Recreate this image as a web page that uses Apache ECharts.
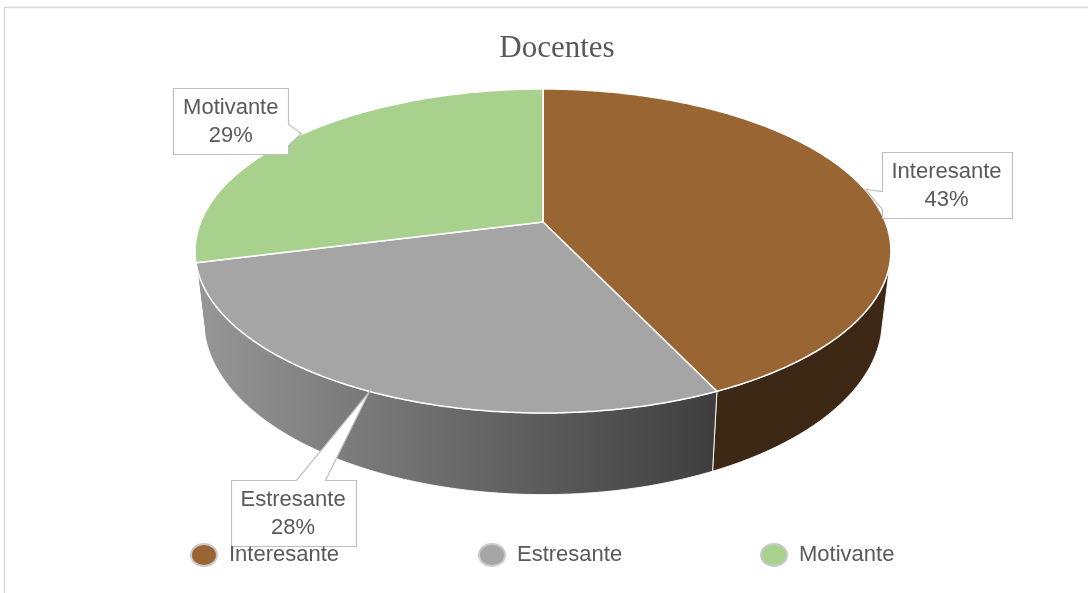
<!DOCTYPE html>
<html><head><meta charset="utf-8">
<script src="https://cdn.jsdelivr.net/npm/echarts@6/dist/echarts.min.js"></script>
<style>html,body{margin:0;padding:0;background:#fff}#c{width:1088px;height:593px}</style>
</head><body><div id="c"></div>
<script>
// ---- data ----
const chartTitle = 'Docentes';
const categories = ['Interesante', 'Estresante', 'Motivante'];
const values = [43, 28, 29];

// ---- style ----
const topColors = ['#996633', '#a5a5a5', '#a9d18e'];
const wallColors = [
  '#3d2816',
  {type:'linear', x:0, y:0, x2:1, y2:0, colorStops:[{offset:0,color:'#979797'},{offset:0.3,color:'#7b7b7b'},{offset:1,color:'#3e3e3e'}]},
  '#7d9c68'
];
const FONT = '"Liberation Sans", Arial, sans-serif';
const TXT = '#595959';
const legendLefts = [190, 478, 760];

// ---- 3D pie projection (layout) ----
const CX = 543, CY = 222, A = 342.3, B = 156.8, K = 0.179, D = 67, SX = 0.975;
function proj(theta){
  const t = theta*Math.PI/180, u = Math.sin(t), v = -Math.cos(t), s = 1/(1-K*v);
  return {x: CX + A*u*s, y: CY + B*v*s, s: s, u: u, v: v};
}
function projB(theta){
  const p = proj(theta);
  return {x: CX + (p.x-CX)*SX, y: p.y + D*p.s};
}
function tangent(lo, hi){
  let best = lo, bv = Infinity;
  for (let th = lo; th <= hi; th += 0.1){
    const p = proj(th), b = projB(th);
    const p1 = proj(th+0.05), p0 = proj(th-0.05);
    const tx = p1.x-p0.x, ty = p1.y-p0.y, dx = b.x-p.x, dy = b.y-p.y;
    const c = Math.abs((tx*dy - ty*dx)/Math.hypot(tx,ty)/Math.hypot(dx,dy));
    if (c < bv){ bv = c; best = th; }
  }
  return best;
}
const TH_R = tangent(60, 140), TH_L = tangent(220, 300);

const total = values.reduce((a,b)=>a+b, 0);
const starts = [], ends = [];
{ let acc = 0; values.forEach(v => { starts.push(acc/total*360); acc += v; ends.push(acc/total*360); }); }

function arc(a0, a1, f){
  const pts = [], n = Math.max(2, Math.ceil((a1-a0)/0.5));
  for (let i = 0; i <= n; i++){ const p = f(a0 + (a1-a0)*i/n); pts.push([p.x, p.y]); }
  return pts;
}

const mctx = document.createElement('canvas').getContext('2d');
mctx.font = '22px ' + FONT;

function renderWall(params){
  const i = params.dataIndex;
  const a0 = Math.max(starts[i], TH_R), a1 = Math.min(ends[i], TH_L);
  if (a1 <= a0) return null;
  const pts = arc(a0, a1, proj).concat(arc(a0, a1, projB).reverse());
  return {type:'polygon', shape:{points:pts}, style:{fill: wallColors[i], stroke:'rgba(255,255,255,0.9)', lineWidth:1}};
}
function renderTop(params){
  const i = params.dataIndex;
  const pts = [[CX, CY]].concat(arc(starts[i], ends[i], proj));
  return {type:'polygon', shape:{points:pts}, style:{fill: topColors[i], stroke:'#ffffff', lineWidth:1.5, lineJoin:'round'}};
}
function renderLabel(params){
  const i = params.dataIndex;
  const mid = (starts[i]+ends[i])/2;
  const tip = proj(mid);
  const pct = Math.round(values[i]/total*100) + '%';
  const text = categories[i] + '\n' + pct;
  const tw = Math.max(mctx.measureText(categories[i]).width, mctx.measureText(pct).width);
  const w = Math.round(tw + 20), h = 66;
  let x, y, pts;
  if (tip.v > 0.5){            // front: box below
    x = tip.x - 76 - w/2; y = tip.y + 89;
    pts = [[x,y],[x+65,y],[tip.x,tip.y],[x+94,y],[x+w,y],[x+w,y+h],[x,y+h]];
  } else if (tip.u > 0){       // right
    x = tip.x + 17; y = tip.y - 4 - h/2;
    pts = [[x,y],[x+w,y],[x+w,y+h],[x,y+h],[x,y+57],[tip.x,tip.y],[x,y+39]];
  } else {                     // left
    x = tip.x - 11 - w; y = tip.y - 14 - h/2;
    pts = [[x,y],[x+w,y],[x+w,y+36],[tip.x+2,tip.y-2],[x+w,y+57],[x+w,y+h],[x,y+h]];
  }
  pts = pts.map(p => [Math.round(p[0])+0.5, Math.round(p[1])+0.5]);
  return {type:'group', children:[
    {type:'polygon', shape:{points:pts}, style:{fill:'#ffffff', stroke:'#bfbfbf', lineWidth:1.2}},
    {type:'text', style:{text:text, x:x+w/2, y:y+h/2+1, align:'center', verticalAlign:'middle',
      fontSize:22, fontFamily:FONT, fill:TXT, lineHeight:28}}
  ]};
}

const legends = categories.map((n, i) => ({
  left: legendLefts[i], top: 543, padding: 0, itemWidth: 26, itemHeight: 22, selectedMode: false,
  icon: 'path://M0,11a13,11 0 1,0 26,0a13,11 0 1,0 -26,0',
  textStyle: {fontSize: 22, fontFamily: FONT, color: TXT, padding: [0, 0, 0, 7]},
  data: [n]
}));

const chart = echarts.init(document.getElementById('c'), null, {renderer:'canvas'});
chart.setOption({
  animation:false,
  backgroundColor:'#ffffff',
  title:{text:chartTitle, left:552, top:28, textAlign:'center',
    textStyle:{fontFamily:'"Liberation Serif", "Times New Roman", serif', fontSize:31, fontWeight:'normal', color:TXT}},
  legend: legends,
  graphic:[{type:'rect', silent:true, z:-10, shape:{x:4.5, y:7.5, width:1200, height:700},
    style:{fill:'none', stroke:'#d9d9d9', lineWidth:1.5}}],
  series:[
    {type:'pie', radius:[0,0], center:[CX,CY], silent:true, label:{show:false}, labelLine:{show:false},
      data:categories.map((n,i)=>({name:n, value:values[i], itemStyle:{color:topColors[i], borderColor:'#c9c9c9', borderWidth:1}}))},
    {type:'custom', coordinateSystem:'none', silent:true, z:1, renderItem:renderWall, data:values},
    {type:'custom', coordinateSystem:'none', silent:true, z:2, renderItem:renderTop, data:values},
    {type:'custom', coordinateSystem:'none', silent:true, z:3, renderItem:renderLabel, data:values}
  ]
});
</script>
</body></html>
